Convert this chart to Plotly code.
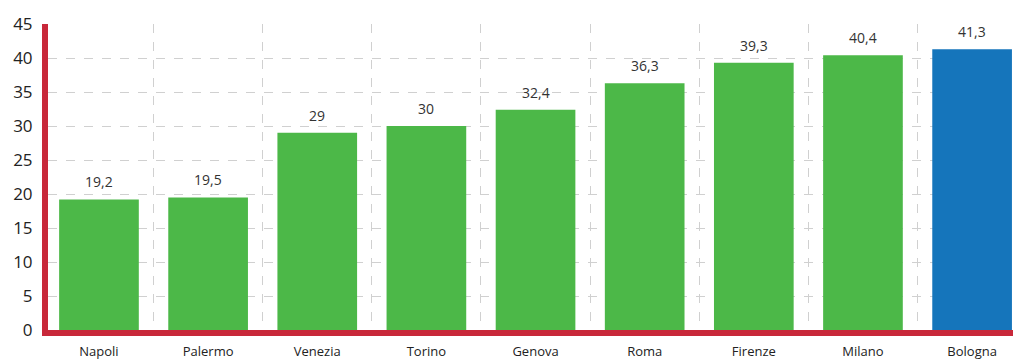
import plotly.graph_objects as go

cities = ["Napoli", "Palermo", "Venezia", "Torino", "Genova", "Roma", "Firenze", "Milano", "Bologna"]
values = [19.2, 19.5, 29, 30, 32.4, 36.3, 39.3, 40.4, 41.3]
highlight = "Bologna"

green = "#4cb848"
blue = "#1575bb"
red = "#c8283a"

colors = [blue if c == highlight else green for c in cities]
labels = [f"{v:g}".replace(".", ",") for v in values]

fig = go.Figure(go.Bar(
    x=cities, y=values, marker_color=colors, marker_line_width=0,
    width=0.73,
))
for c, v, t in zip(cities, values, labels):
    fig.add_annotation(x=c, y=v, text=t, showarrow=False, yanchor="bottom",
                       yshift=6, font=dict(size=14, color="#333333"))

fig.update_layout(
    width=1013, height=352,
    margin=dict(l=40, r=0, t=16, b=30),
    plot_bgcolor="white", paper_bgcolor="white",
    font=dict(family="Open Sans", color="#222222"),
    separators=",.",
    showlegend=False,
)
fig.update_xaxes(
    range=[-0.467, 8.448], tickson="boundaries", showgrid=True,
    gridcolor="#d0d0d0", griddash="dash", gridwidth=1,
    showline=True, linecolor=red, linewidth=6, automargin=False,
    ticks="", tickfont=dict(size=13, color="#222222"),
    zeroline=False, ticklabelstandoff=4,
)
fig.update_yaxes(
    range=[0, 45], dtick=5, showgrid=True, gridcolor="#d0d0d0",
    griddash="dash", gridwidth=1, showline=True, linecolor=red, linewidth=6,
    zeroline=False, automargin=False,
    tickfont=dict(size=17, color="#222222"), ticks="", ticklabelstandoff=6,
)
fig.write_html("out.html")
